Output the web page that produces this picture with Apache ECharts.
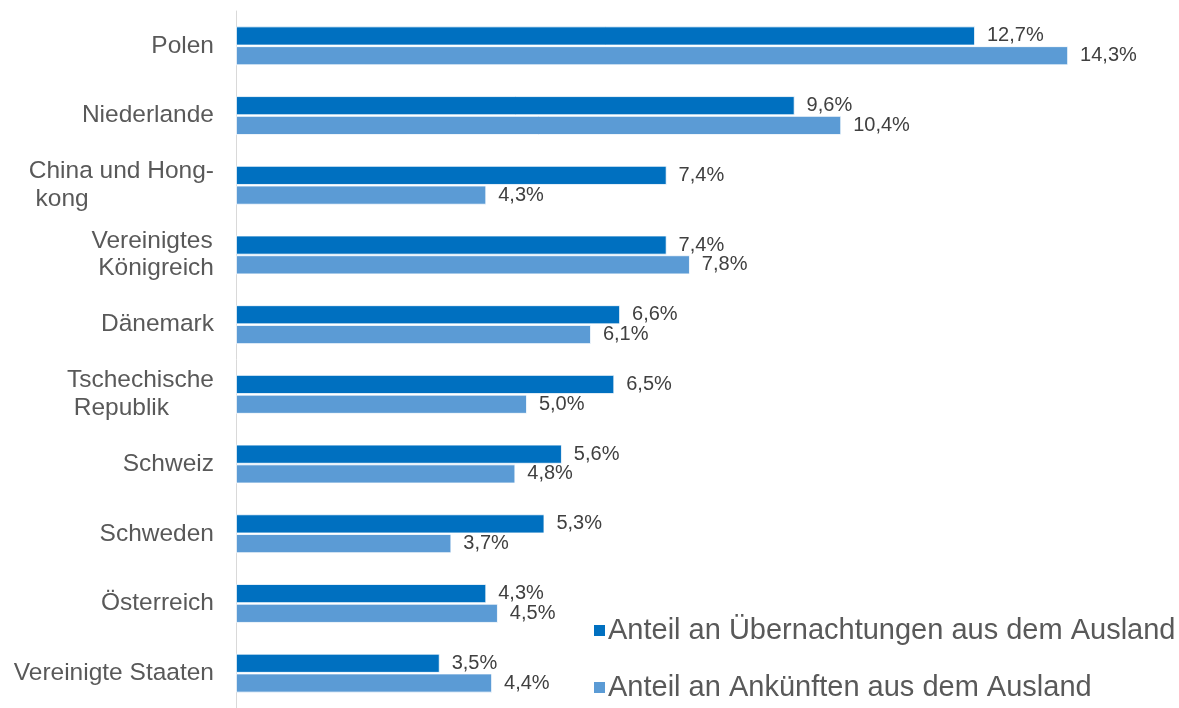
<!DOCTYPE html>
<html>
<head>
<meta charset="utf-8">
<script src="https://cdn.jsdelivr.net/npm/echarts@6/dist/echarts.min.js"></script>
<style>
  html, body { margin: 0; padding: 0; background: #fff; }
  #chart { width: 1179px; height: 708px; }
</style>
</head>
<body>
<div id="chart"></div>
<script>
// Kategorien von oben nach unten
var countries = ['Polen', 'Niederlande', 'China und Hong-\nkong', 'Vereinigtes\nKönigreich', 'Dänemark',
    'Tschechische\nRepublik', 'Schweiz', 'Schweden', 'Österreich', 'Vereinigte Staaten'];
var overnightShare = [12.7, 9.6, 7.4, 7.4, 6.6, 6.5, 5.6, 5.3, 4.3, 3.5];
var arrivalShare = [14.3, 10.4, 4.3, 7.8, 6.1, 5.0, 4.8, 3.7, 4.5, 4.4];
var seriesNames = ['Anteil an Übernachtungen aus dem Ausland', 'Anteil an Ankünften aus dem Ausland'];

var chart = echarts.init(document.getElementById('chart'));

function pctLabel(params) {
    return params.value.toFixed(1).replace('.', ',') + '%';
}

// zweizeilige Beschriftungen: linksbündig im Block, zweite Zeile leicht eingerückt
function countryLabel(value) {
    var lines = value.split('\n');
    return lines.map(function (line, i) {
        return '{l|' + (i > 0 ? ' ' : '') + line + '}';
    }).join('\n');
}

var labelStyle = {
    show: true,
    position: 'right',
    distance: 12,
    color: '#404040',
    fontFamily: 'Liberation Sans',
    fontSize: 20,
    formatter: pctLabel
};

var option = {
    animation: false,
    grid: {
        left: 236,
        top: 11,
        width: 931,
        height: 705
    },
    legend: {
        orient: 'vertical',
        left: 587,
        top: 611,
        itemWidth: 13,
        itemHeight: 13,
        itemGap: 28,
        icon: 'rect',
        textStyle: {
            color: '#595959',
            fontFamily: 'Liberation Sans',
            fontSize: 29,
            padding: [0, 0, 0, -3]
        },
        data: seriesNames
    },
    xAxis: {
        type: 'value',
        min: 0,
        max: 16,
        show: false
    },
    yAxis: {
        type: 'category',
        inverse: true,
        data: countries,
        axisLine: { lineStyle: { color: '#d9d9d9' } },
        axisTick: { show: false },
        axisLabel: {
            color: '#595959',
            fontFamily: 'Liberation Sans',
            fontSize: 24.5,
            lineHeight: 27.5,
            margin: 22,
            align: 'right',
            formatter: countryLabel,
            rich: {
                l: {
                    align: 'left',
                    color: '#595959',
                    fontFamily: 'Liberation Sans',
                    fontSize: 24.5,
                    lineHeight: 27.5
                }
            }
        }
    },
    series: [
        {
            name: seriesNames[0],
            type: 'bar',
            data: overnightShare,
            barWidth: 19,
            barGap: '4%',
            itemStyle: { color: '#0070C0', borderColor: '#ffffff', borderWidth: 0.8 },
            label: labelStyle
        },
        {
            name: seriesNames[1],
            type: 'bar',
            data: arrivalShare,
            barWidth: 19,
            itemStyle: { color: '#5B9BD5', borderColor: '#ffffff', borderWidth: 0.8 },
            label: labelStyle
        }
    ]
};

chart.setOption(option);
</script>
</body>
</html>
